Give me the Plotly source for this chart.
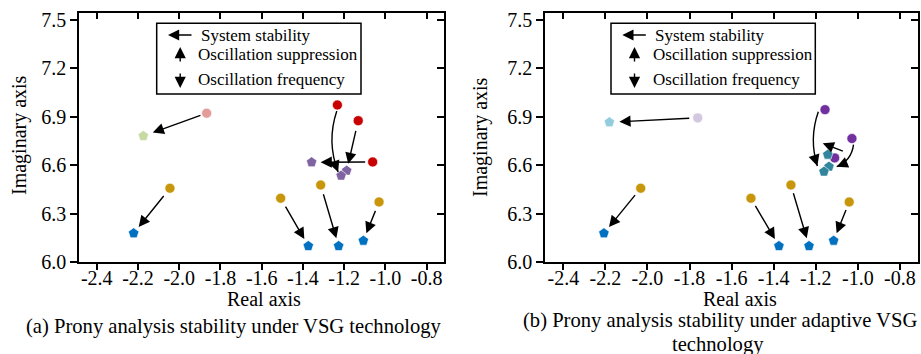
import math
import plotly.graph_objects as go

# ---------------- data ----------------
tick_x_vals = [-2.4, -2.2, -2.0, -1.8, -1.6, -1.4, -1.2, -1.0, -0.8]
tick_x_text = ["-2.4", "-2.2", "-2.0", "-1.8", "-1.6", "-1.4", "-1.2", "-1.0", "-0.8"]
tick_y_vals = [6.0, 6.3, 6.6, 6.9, 7.2, 7.5]
tick_y_text = ["6.0", "6.3", "6.6", "6.9", "7.2", "7.5"]

# (a) VSG technology
a_pink_x = [-1.867];                      a_pink_y = [6.922]
a_green_x = [-2.174];                     a_green_y = [6.781]
a_red_x = [-1.233, -1.132, -1.062];       a_red_y = [6.973, 6.876, 6.620]
a_purple_x = [-1.358, -1.188, -1.215];    a_purple_y = [6.618, 6.566, 6.535]
a_gold_x = [-2.045, -1.508, -1.314, -1.031]; a_gold_y = [6.457, 6.395, 6.477, 6.372]
a_blue_x = [-2.221, -1.374, -1.227, -1.107]; a_blue_y = [6.178, 6.099, 6.099, 6.132]

# (b) adaptive VSG technology
b_lav_x = [-1.761];                       b_lav_y = [6.893]
b_cyan_x = [-2.181];                      b_cyan_y = [6.866]
b_violet_x = [-1.156, -1.028, -1.110];    b_violet_y = [6.944, 6.765, 6.645]
b_teal_x = [-1.143, -1.137, -1.161];      b_teal_y = [6.665, 6.591, 6.560]
b_gold_x = [-2.032, -1.508, -1.318, -1.041]; b_gold_y = [6.457, 6.395, 6.477, 6.372]
b_blue_x = [-2.207, -1.375, -1.232, -1.115]; b_blue_y = [6.178, 6.099, 6.099, 6.132]

legend_items = ["System stability", "Oscillation suppression", "Oscillation frequency"]
captions_a = ["(a) Prony analysis stability under VSG technology"]
captions_b = ["(b) Prony analysis stability under adaptive VSG", "technology"]

# ---------------- geometry / style ----------------
W, H = 921, 354
FONT = "Liberation Serif"
Y_TOP, Y_BOT = 13, 262
YR = [6.0, 7.543]
PANELS = {
    "a": dict(x0=79, x1=444, xr=[-2.486, -0.716], xa="x", ya="y"),
    "b": dict(x0=545, x1=918, xr=[-2.487, -0.714], xa="x2", ya="y2"),
}


def to_px(p, x, y):
    g = PANELS[p]
    X = g["x0"] + (x - g["xr"][0]) / (g["xr"][1] - g["xr"][0]) * (g["x1"] - g["x0"])
    Y = Y_BOT - (y - YR[0]) / (YR[1] - YR[0]) * (Y_BOT - Y_TOP)
    return X, Y


def to_data(p, X, Y):
    g = PANELS[p]
    x = g["xr"][0] + (X - g["x0"]) / (g["x1"] - g["x0"]) * (g["xr"][1] - g["xr"][0])
    y = YR[0] + (Y_BOT - Y) / (Y_BOT - Y_TOP) * (YR[1] - YR[0])
    return x, y


def paper(X, Y):
    return X / W, 1 - Y / H


fig = go.Figure()


def add_markers(p, xs, ys, color, symbol, size):
    g = PANELS[p]
    fig.add_trace(go.Scatter(
        x=xs, y=ys, mode="markers", xaxis=g["xa"], yaxis=g["ya"], showlegend=False,
        marker=dict(color=color, symbol=symbol, size=size,
                    line=dict(color="white", width=0.6)),
        hoverinfo="skip"))


CIRC, PENT = 10, 11
add_markers("a", a_pink_x, a_pink_y, "#E29D9B", "circle", CIRC)
add_markers("a", a_green_x, a_green_y, "#C6DAA2", "pentagon", PENT)
add_markers("a", a_red_x, a_red_y, "#C80000", "circle", CIRC)
add_markers("a", a_purple_x, a_purple_y, "#8064A2", "pentagon", PENT)
add_markers("a", a_gold_x, a_gold_y, "#C8960A", "circle", CIRC)
add_markers("a", a_blue_x, a_blue_y, "#0070C0", "pentagon", PENT)

add_markers("b", b_lav_x, b_lav_y, "#D3C8E0", "circle", CIRC)
add_markers("b", b_cyan_x, b_cyan_y, "#93CDDD", "pentagon", PENT)
add_markers("b", b_violet_x, b_violet_y, "#7030A0", "circle", CIRC)
add_markers("b", b_teal_x, b_teal_y, "#31859C", "pentagon", PENT)
add_markers("b", b_gold_x, b_gold_y, "#C8960A", "circle", CIRC)
add_markers("b", b_blue_x, b_blue_y, "#0070C0", "pentagon", PENT)

# empty traces so the mirrored (inside-tick) axes are drawn
fig.add_trace(go.Scatter(x=[], y=[], xaxis="x3", yaxis="y3", showlegend=False))
fig.add_trace(go.Scatter(x=[], y=[], xaxis="x4", yaxis="y4", showlegend=False))

annotations = []
shapes = []
AW, AS, AH = 1.4, 1.6, 2

# straight arrows: (panel, src(x,y), dst(x,y), startstandoff, standoff)
straight = [
    ("a", (a_pink_x[0], a_pink_y[0]), (a_green_x[0], a_green_y[0]), 5, 10),
    ("a", (a_red_x[1], a_red_y[1]), (a_purple_x[1], a_purple_y[1]), 9, 7),
    ("a", (a_red_x[2], a_red_y[2]), (a_purple_x[0], a_purple_y[0]), 6, 9),
    ("b", (b_lav_x[0], b_lav_y[0]), (b_cyan_x[0], b_cyan_y[0]), 7, 10),
]
for i in range(4):
    straight.append(("a", (a_gold_x[i], a_gold_y[i]), (a_blue_x[i], a_blue_y[i]), 8, 8))
    straight.append(("b", (b_gold_x[i], b_gold_y[i]), (b_blue_x[i], b_blue_y[i]), 7, 8))

for p, s, d, ss, so in straight:
    g = PANELS[p]
    annotations.append(dict(
        x=d[0], y=d[1], ax=s[0], ay=s[1], xref=g["xa"], yref=g["ya"],
        axref=g["xa"], ayref=g["ya"], text="", showarrow=True,
        arrowhead=AH, arrowsize=AS, arrowwidth=AW, arrowcolor="black",
        standoff=so, startstandoff=ss))

# curved arrows: (panel, src, dst, start offset px, end offset px, bend px)
curved = [
    ("a", (a_red_x[0], a_red_y[0]), (a_purple_x[2], a_purple_y[2]), (-0.6, 6), (-3, -3.7), 11),
    ("b", (b_violet_x[0], b_violet_y[0]), (b_teal_x[2], b_teal_y[2]), (-6.7, 2), (-6.6, -5.7), 9),
    ("b", (b_violet_x[1], b_violet_y[1]), (b_teal_x[1], b_teal_y[1]), (1.6, 6), (7.7, 0), -8),
]
for p, s, d, so, eo, bend in curved:
    g = PANELS[p]
    SX, SY = to_px(p, *s)
    DX, DY = to_px(p, *d)
    SX, SY = SX + so[0], SY + so[1]
    EX, EY = DX + eo[0], DY + eo[1]
    dx, dy = EX - SX, EY - SY
    L = math.hypot(dx, dy)
    CX = (SX + EX) / 2 + (-dy / L) * bend
    CY = (SY + EY) / 2 + (dx / L) * bend
    sx, sy = to_data(p, SX, SY)
    cx, cy = to_data(p, CX, CY)
    ex, ey = to_data(p, EX, EY)
    shapes.append(dict(type="path", xref=g["xa"], yref=g["ya"],
                       path=f"M {sx},{sy} Q {cx},{cy} {ex},{ey}",
                       line=dict(color="black", width=AW)))
    tx, ty = EX - CX, EY - CY
    tl = math.hypot(tx, ty)
    annotations.append(dict(
        x=ex, y=ey, xref=g["xa"], yref=g["ya"], ax=-tx / tl * 9, ay=-ty / tl * 9,
        text="", showarrow=True, arrowhead=AH, arrowsize=AS, arrowwidth=AW,
        arrowcolor="black"))

# extra shift arrow in (b)
annotations.append(dict(
    x=b_teal_x[0], y=b_teal_y[0], xref="x2", yref="y2", xshift=-5, yshift=11.4,
    ax=21.6, ay=8.4, text="", showarrow=True, arrowhead=AH, arrowsize=AS,
    arrowwidth=AW, arrowcolor="black"))

# legend boxes
for p, bx in (("a", 156.7), ("b", 611.0)):
    x0, y0 = paper(bx, 23.3)
    x1, y1 = paper(bx + 204.3, 94)
    shapes.append(dict(type="rect", xref="paper", yref="paper", x0=x0, y0=y0, x1=x1, y1=y1,
                       line=dict(color="black", width=1.5), fillcolor="white", layer="above"))
    hx, hy = paper(bx + 11.3, 35)
    annotations.append(dict(x=hx, y=hy, xref="paper", yref="paper", ax=25, ay=0, text="",
                            showarrow=True, arrowhead=AH, arrowsize=AS, arrowwidth=AW,
                            arrowcolor="black"))
    ux, uy = paper(bx + 23.5, 47)
    annotations.append(dict(x=ux, y=uy, xref="paper", yref="paper", ax=0, ay=16, text="",
                            showarrow=True, arrowhead=AH, arrowsize=AS, arrowwidth=AW,
                            arrowcolor="black"))
    dxp, dyp = paper(bx + 23.5, 88)
    annotations.append(dict(x=dxp, y=dyp, xref="paper", yref="paper", ax=0, ay=-16, text="",
                            showarrow=True, arrowhead=AH, arrowsize=AS, arrowwidth=AW,
                            arrowcolor="black"))
    for txt, tx, ty in ((legend_items[0], bx + 41.8, 35),
                        (legend_items[1], bx + 39.5, 54.5),
                        (legend_items[2], bx + 39.5, 79.5)):
        px_, py_ = paper(tx, ty)
        annotations.append(dict(x=px_, y=py_, xref="paper", yref="paper", text=txt,
                                showarrow=False, xanchor="left", yanchor="middle",
                                font=dict(family=FONT, size=17, color="black")))


def label(txt, X, Y, size, angle=0):
    px_, py_ = paper(X, Y)
    annotations.append(dict(x=px_, y=py_, xref="paper", yref="paper", text=txt,
                            showarrow=False, xanchor="center", yanchor="middle",
                            textangle=angle, font=dict(family=FONT, size=size, color="black")))


label("Real axis", 264, 299, 20)
label("Real axis", 740, 299, 20)
label("Imaginary axis", 19, 135, 20, -90)
label("Imaginary axis", 481, 137, 20, -90)
label(captions_a[0], 234, 326, 20.6)
label(captions_b[0], 720, 320, 20.6)
label(captions_b[1], 718, 344, 20.6)

tickfont = dict(family=FONT, size=20, color="black")
base_x = dict(tickmode="array", tickvals=tick_x_vals, ticktext=tick_x_text,
              showgrid=False, zeroline=False, tickfont=tickfont, tickcolor="black",
              tickwidth=1.5)
base_y = dict(range=YR, tickmode="array", tickvals=tick_y_vals, ticktext=tick_y_text,
              showgrid=False, zeroline=False, tickfont=tickfont, tickcolor="black",
              tickwidth=1.5)

layout_axes = {}
for p, (xa, ya, xo, yo) in (("a", ("xaxis", "yaxis", "xaxis3", "yaxis3")),
                            ("b", ("xaxis2", "yaxis2", "xaxis4", "yaxis4"))):
    g = PANELS[p]
    dom_x = [g["x0"] / W, g["x1"] / W]
    dom_y = [1 - Y_BOT / H, 1 - Y_TOP / H]
    xo_id = "x3" if p == "a" else "x4"
    yo_id = "y3" if p == "a" else "y4"
    layout_axes[xa] = dict(base_x, range=g["xr"], domain=dom_x, anchor=g["ya"],
                           ticks="outside", ticklen=6, showline=True, linecolor="black",
                           linewidth=1.5, mirror=True, ticklabelstandoff=-9)
    layout_axes[ya] = dict(base_y, domain=dom_y, anchor=g["xa"], ticks="outside", ticklen=7,
                           showline=True, linecolor="black", linewidth=1.5, mirror=True)
    layout_axes[xo] = dict(base_x, range=g["xr"], overlaying=g["xa"], side="top",
                           anchor=yo_id, ticks="inside", ticklen=6, showticklabels=False,
                           showline=False)
    layout_axes[yo] = dict(base_y, overlaying=g["ya"], side="right", anchor=xo_id,
                           ticks="inside", ticklen=7, showticklabels=False, showline=False)

fig.update_layout(
    width=W, height=H, margin=dict(l=0, r=0, t=0, b=0, autoexpand=False),
    paper_bgcolor="white", plot_bgcolor="white", showlegend=False,
    font=dict(family=FONT, color="black"),
    annotations=annotations, shapes=shapes, **layout_axes)

fig.write_html(
    "out.html",
    config={"displayModeBar": False},
    post_script="document.body.style.margin='0px';"
                "document.documentElement.style.overflow='hidden';"
                "document.body.style.overflow='hidden';")
